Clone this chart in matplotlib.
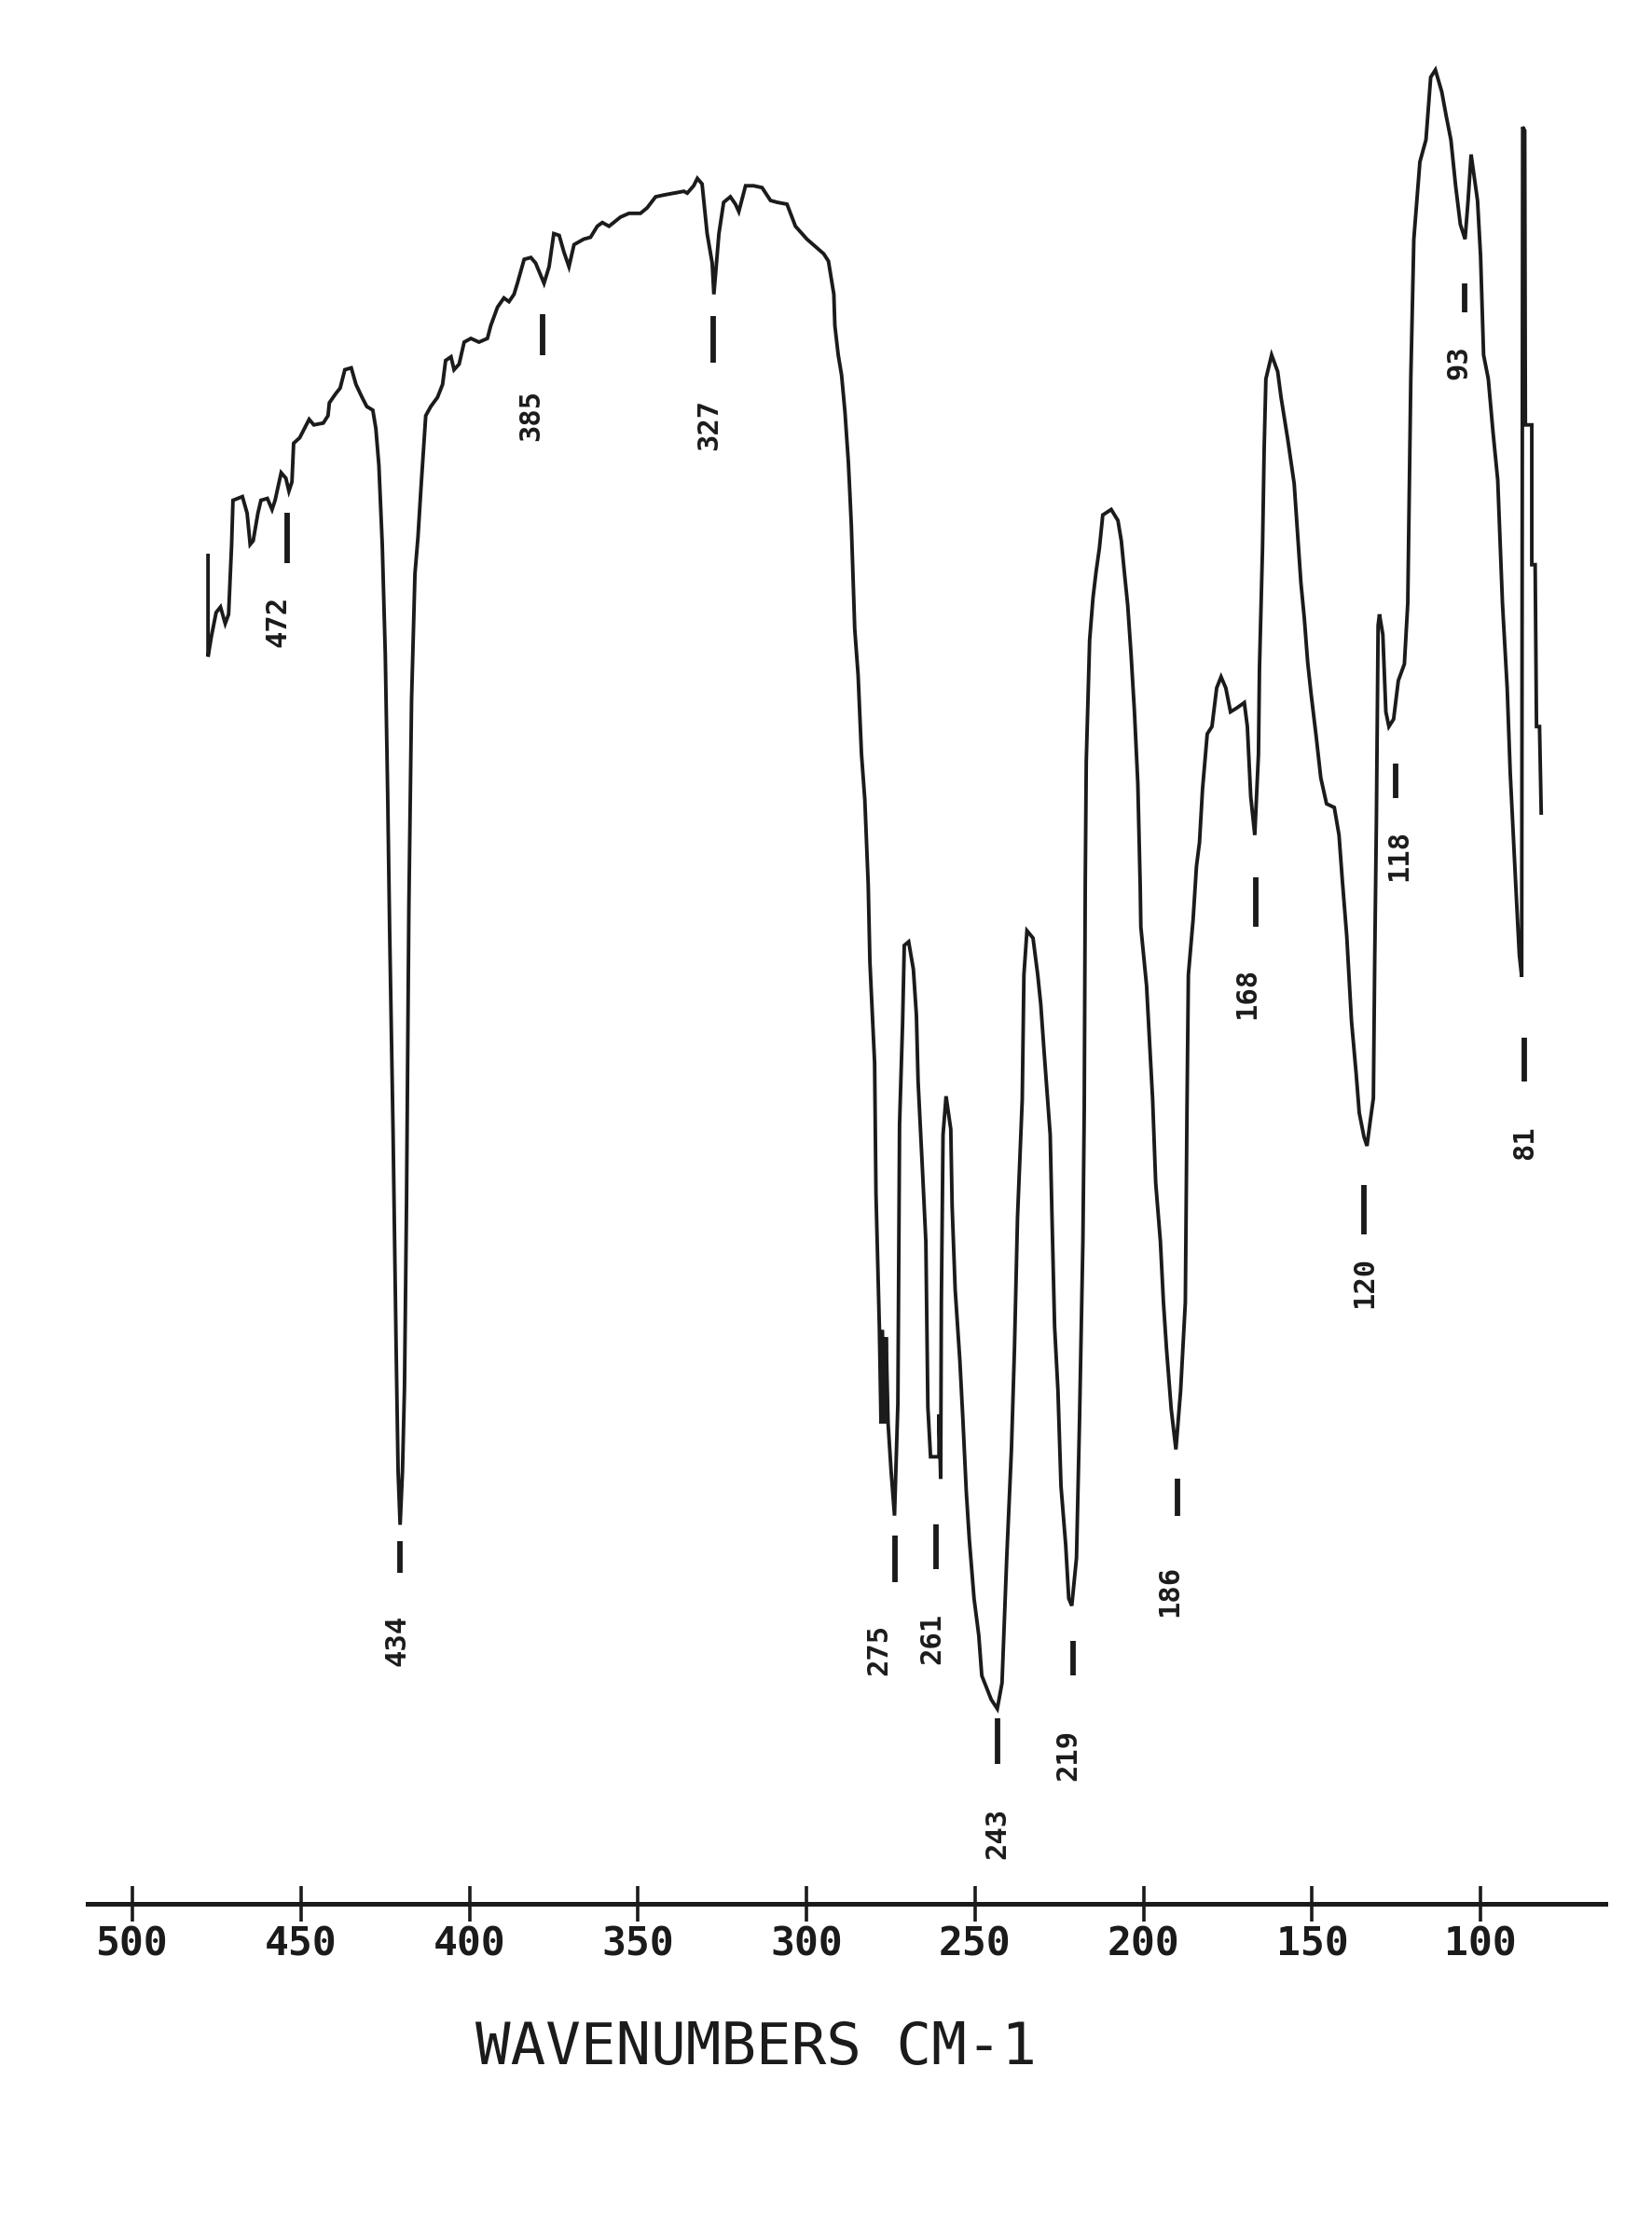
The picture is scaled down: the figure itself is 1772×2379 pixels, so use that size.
import numpy as np
import matplotlib
matplotlib.use("Agg")
import matplotlib.pyplot as plt

plt.rcParams["font.family"] = ["DejaVu Sans Mono", "DejaVu Sans"]
INK = "#1b1b1b"

# trace: (wavenumber cm-1, %T)
seg_start = [(477.6, 73.3), (477.6, 67.8), (476.6, 68.9), (475.2, 70.2), (473.9, 70.5), (472.5, 69.6),
             (471.5, 70.1), (470.6, 73.9), (470.2, 76.3), (467.4, 76.5), (466.0, 75.6), (465.1, 73.9),
             (464.2, 74.1), (462.8, 75.6), (461.9, 76.3), (460.0, 76.4), (458.6, 75.8), (457.7, 76.3),
             (455.9, 77.8), (454.5, 77.5), (453.6, 76.8), (452.7, 77.3), (452.2, 79.4), (450.4, 79.7),
             (449.0, 80.2), (447.6, 80.7), (446.2, 80.4), (443.4, 80.5), (442.0, 80.9), (441.6, 81.6),
             (439.7, 82.1), (438.4, 82.4), (437.0, 83.4), (435.1, 83.5), (433.7, 82.6), (431.9, 81.9),
             (430.5, 81.4), (428.7, 81.2), (427.8, 80.2), (426.9, 78.2), (425.9, 73.9), (425.0, 67.9)]
seg_434 = [(424.3, 60.4), (423.7, 52.8), (422.7, 42.0), (421.8, 30.4), (421.2, 23.5), (420.6, 20.6),
           (419.9, 23.5), (419.3, 28.1), (418.7, 38.1), (418.0, 54.3), (417.2, 65.5), (416.2, 72.3),
           (415.3, 74.3), (414.4, 77.0), (413.0, 80.9)]
seg_plateau = [(411.5, 81.4), (409.5, 81.9), (408.0, 82.6), (407.1, 83.9), (405.5, 84.1), (404.6, 83.4),
               (403.1, 83.7), (401.6, 84.9), (399.6, 85.1), (397.2, 84.9), (394.7, 85.1), (393.7, 85.8),
               (391.7, 86.8), (389.8, 87.3), (388.3, 87.1), (386.8, 87.5), (385.8, 88.1), (383.8, 89.4),
               (381.8, 89.5), (380.4, 89.2), (377.9, 88.1), (376.4, 89.0), (375.0, 90.8), (373.4, 90.7),
               (372.0, 89.8), (370.5, 89.0), (369.0, 90.2), (366.1, 90.5), (364.1, 90.6), (362.1, 91.2),
               (360.6, 91.4), (358.6, 91.2), (355.2, 91.7), (352.7, 91.9), (349.3, 91.9), (347.3, 92.2),
               (344.8, 92.8), (342.3, 92.9), (339.4, 93.0), (336.4, 93.1), (335.4, 93.0), (333.5, 93.4),
               (332.4, 93.8), (331.0, 93.5), (329.5, 90.8), (328.0, 89.2), (327.5, 87.5), (326.0, 90.8),
               (324.6, 92.5), (322.6, 92.8), (321.1, 92.4), (320.1, 92.0), (318.1, 93.4), (315.7, 93.4),
               (313.2, 93.3), (310.7, 92.6), (308.7, 92.5), (305.8, 92.4), (303.3, 91.2), (299.9, 90.5),
               (294.9, 89.7), (293.5, 89.3), (291.9, 87.5), (291.6, 85.8), (290.6, 84.2), (289.6, 83.1),
               (288.6, 81.1), (287.6, 78.4), (287.2, 76.9), (286.7, 74.9), (285.7, 69.3), (284.7, 66.8),
               (283.7, 62.5), (282.7, 60.0)]
seg_275_230 = [(281.7, 55.4), (281.2, 51.2), (279.8, 45.7), (279.4, 38.6), (278.4, 31.4), (277.9, 26.1),
               (277.5, 31.2), (276.8, 26.1), (276.4, 30.8), (275.8, 26.1), (274.9, 23.5), (273.9, 21.1),
               (272.9, 27.2), (272.4, 42.4), (271.5, 47.9), (271.0, 52.1), (269.7, 52.3), (268.3, 50.8),
               (267.4, 48.3), (266.9, 44.7), (265.5, 39.5), (264.6, 36.0), (264.0, 27.0), (263.2, 24.3),
               (260.7, 24.3), (260.7, 26.6), (260.2, 23.1), (260.0, 32.7), (259.5, 41.8), (258.6, 43.9),
               (257.2, 42.1), (256.8, 37.9), (255.9, 33.4), (254.5, 29.5), (253.6, 26.3), (252.6, 22.4),
               (251.7, 19.8), (250.3, 16.6), (248.9, 14.6), (248.0, 12.4), (245.2, 11.1), (243.4, 10.6),
               (242.0, 12.0), (240.6, 18.8), (239.2, 24.7), (238.3, 30.2), (237.4, 37.3), (236.0, 43.7),
               (235.5, 50.5), (234.6, 52.9), (232.8, 52.5)]
seg_219_168 = [(231.4, 50.5), (230.5, 48.9), (229.5, 46.3), (227.7, 41.8), (227.2, 37.6), (226.4, 31.4),
               (225.4, 27.9), (224.5, 22.7), (223.1, 19.5), (222.2, 16.6), (221.3, 16.2), (219.9, 18.8),
               (219.0, 26.3), (218.0, 36.0), (217.6, 43.1), (217.3, 55.4), (217.0, 62.1), (216.0, 68.7),
               (215.0, 71.0), (214.1, 72.4), (213.1, 73.7), (212.1, 75.5), (209.6, 75.8), (207.6, 75.2),
               (206.6, 74.1), (205.7, 72.4), (204.7, 70.6), (203.7, 67.9), (202.7, 64.8), (201.7, 60.9),
               (201.0, 55.4), (200.8, 53.1), (199.1, 49.9), (197.3, 43.7), (196.4, 39.2), (195.0, 36.0),
               (194.1, 32.7), (193.2, 30.2), (191.8, 26.9), (190.4, 24.7), (189.0, 27.9), (187.6, 32.7),
               (187.1, 43.4), (186.7, 50.5), (185.3, 53.5), (184.3, 56.4), (183.4, 57.7), (182.5, 60.6),
               (181.1, 63.6), (179.7, 64.0), (178.3, 66.1), (177.0, 66.7), (175.6, 66.1), (174.2, 64.8),
               (172.4, 65.0), (170.1, 65.3), (169.2, 64.0), (168.2, 60.2), (167.0, 58.1)]
seg_160_118 = [(165.9, 62.5), (165.6, 67.2), (164.7, 73.7), (164.2, 79.2), (163.7, 82.9), (162.0, 84.2),
               (160.2, 83.3), (159.2, 81.9), (157.2, 79.6), (155.3, 77.2), (154.3, 74.5), (153.3, 71.8),
               (152.3, 69.9), (151.3, 67.5), (150.3, 65.8), (148.8, 63.5), (147.4, 61.2), (145.7, 59.8),
               (143.4, 59.6), (142.0, 58.1), (141.0, 55.6), (139.7, 52.6), (138.3, 48.0), (136.9, 45.1),
               (136.0, 43.0), (134.6, 41.7), (133.7, 41.2), (132.7, 42.6), (131.8, 43.8), (131.4, 51.4),
               (130.9, 59.0), (130.4, 69.5), (130.0, 70.1), (129.0, 69.0), (128.1, 64.8), (127.2, 64.0),
               (125.8, 64.4), (124.4, 66.5), (122.6, 67.4), (121.6, 70.7)]
seg_end = [(120.7, 82.9), (119.8, 90.5), (118.0, 94.7), (116.2, 95.9), (114.8, 99.3), (113.4, 99.7),
           (111.5, 98.5), (110.2, 97.2), (108.8, 95.9), (107.4, 93.4), (106.0, 91.3), (104.6, 90.5),
           (103.7, 92.6), (102.8, 95.1), (101.8, 93.8), (100.9, 92.6), (100.0, 89.6), (99.1, 84.2),
           (97.7, 82.9), (96.3, 80.0), (94.9, 77.4), (93.5, 70.7), (92.1, 66.1), (91.2, 61.5),
           (90.3, 58.1), (89.4, 54.8), (88.5, 51.6), (87.8, 50.4), (87.5, 96.6), (86.9, 96.4),
           (86.7, 80.4), (84.8, 80.4), (84.8, 72.8), (83.8, 72.8), (83.4, 64.0), (82.5, 64.0),
           (82.0, 59.3)]

# peak annotations printed by the instrument
peak_text = ["472", "434", "385", "327", "275", "261", "243", "219", "186", "168", "120", "118", "93", "81"]
mark_wn = [454.0, 420.6, 378.4, 327.7, 273.8, 261.6, 243.4, 220.8, 189.9, 166.6, 134.6, 125.1, 104.6, 87.1]
mark_top = [75.6, 19.7, 86.4, 86.3, 20.0, 20.6, 10.1, 14.3, 23.1, 55.8, 39.1, 62.0, 88.1, 47.1]
mark_bot = [72.9, 18.0, 84.2, 83.8, 17.5, 18.2, 7.6, 12.4, 21.1, 53.1, 36.4, 60.1, 86.5, 44.7]
text_wn = [456.8, 421.4, 381.8, 329.0, 278.4, 262.7, 243.5, 222.5, 192.3, 169.2, 134.4, 124.3, 106.5, 86.9]
text_T = [69.7, 14.3, 80.9, 80.4, 13.8, 14.4, 3.8, 8.1, 17.0, 49.5, 33.8, 57.0, 83.8, 41.4]

xticks = [500, 450, 400, 350, 300, 250, 200, 150, 100]

trace = np.array(seg_start + seg_434 + seg_plateau + seg_275_230 + seg_219_168 + seg_160_118 + seg_end)
wn, T = trace[:, 0], trace[:, 1]

fig = plt.figure(figsize=(17.72, 23.79), dpi=100)
ax = fig.add_axes([0.0531, 0.1417, 0.9186, 0.8583])
ax.plot(wn, T, color=INK, lw=2.8, solid_joinstyle="miter")
ax.vlines(mark_wn, mark_bot, mark_top, color=INK, lw=4.2)
for s, x, y in zip(peak_text, text_wn, text_T):
    ax.text(x, y, s, rotation=90, ha="center", va="center", fontsize=22,
            fontweight="bold", color=INK)

ax.set_xlim(513.3, 63.0)
ax.set_ylim(0, 103.5)
for side in ("left", "right", "top"):
    ax.spines[side].set_visible(False)
ax.spines["bottom"].set_linewidth(3.6)
ax.spines["bottom"].set_color(INK)
ax.set_yticks([])
ax.set_xticks(xticks)
ax.set_xticklabels([str(v) for v in xticks])
ax.tick_params(axis="x", direction="inout", length=28, width=2.6, color=INK,
               pad=2, labelsize=31, labelcolor=INK)
for lab in ax.get_xticklabels():
    lab.set_fontweight("bold")

ax.text(0.4407, -0.0762, "WAVENUMBERS CM-1", transform=ax.transAxes, ha="center",
        va="center", fontsize=45, color=INK)

fig.savefig("out.png", dpi=100, facecolor="white")
